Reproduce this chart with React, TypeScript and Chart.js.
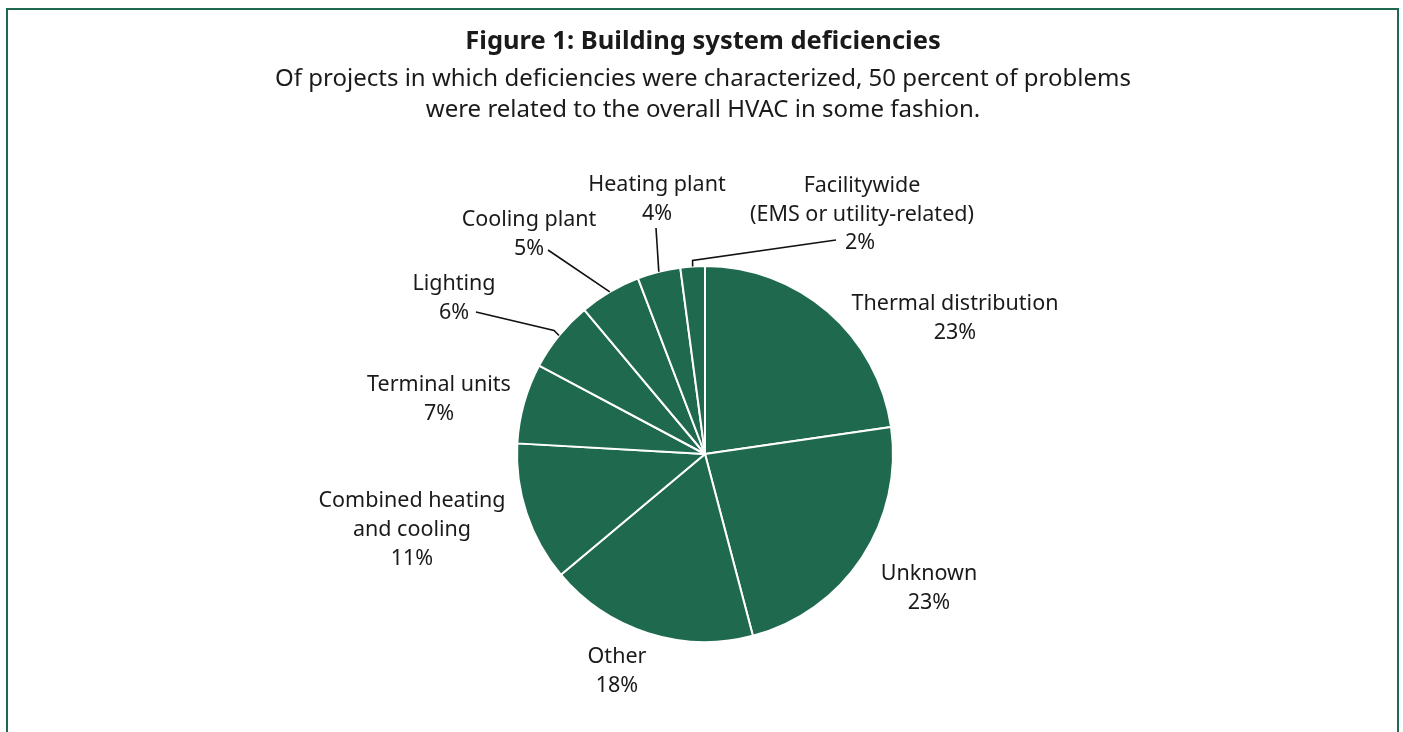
import React, { useEffect, useRef } from "react";
import { Chart, registerables } from "chart.js";

Chart.register(...registerables);

// ---- data ----
const categories = [
  "Thermal distribution",
  "Unknown",
  "Other",
  "Combined heating and cooling",
  "Terminal units",
  "Lighting",
  "Cooling plant",
  "Heating plant",
  "Facilitywide (EMS or utility-related)",
];
const shares = [22.7, 23.2, 18.0, 12.0, 6.9, 6.1, 5.3, 3.7, 2.1];
const percentLabels = ["23%", "23%", "18%", "11%", "7%", "6%", "5%", "4%", "2%"];
const labelLines = [
  ["Thermal distribution"],
  ["Unknown"],
  ["Other"],
  ["Combined heating", "and cooling"],
  ["Terminal units"],
  ["Lighting"],
  ["Cooling plant"],
  ["Heating plant"],
  ["Facilitywide", "(EMS or utility-related)"],
];
const titleText = "Figure 1: Building system deficiencies";
const subtitleLines = [
  "Of projects in which deficiencies were characterized, 50 percent of problems",
  "were related to the overall HVAC in some fashion.",
];

// ---- layout (offsets relative to pie centre, in px) ----
type LabelLayout = {
  dx: number;
  dy: number;
  pct?: [number, number];
  elbow?: [number, number];
  end?: [number, number];
};
const labelLayout: LabelLayout[] = [
  { dx: 250, dy: -150 },
  { dx: 224, dy: 120 },
  { dx: -88, dy: 203 },
  { dx: -293, dy: 47 },
  { dx: -266, dy: -69 },
  { dx: -251, dy: -170, elbow: [-5, -5], end: [-229, -142] },
  { dx: -176, dy: -234, end: [-157, -204] },
  { dx: -48, dy: -269, end: [-49, -226] },
  { dx: 157, dy: -268, pct: [155, -211], elbow: [0, -6], end: [131, -214] },
];

const GREEN = "#1f6a4e";
const TEXT = "#1a1a1a";
const FONT = "'Noto Sans', 'Open Sans', sans-serif";

const labelPlugin = {
  id: "outerLabels",
  afterDraw(chart: any) {
    const ctx = chart.ctx;
    const meta = chart.getDatasetMeta(0);
    ctx.save();
    // title & subtitle
    ctx.fillStyle = TEXT;
    ctx.textAlign = "center";
    ctx.textBaseline = "middle";
    ctx.font = `bold 25.5px ${FONT}`;
    ctx.fillText(titleText, 703, 41.5);
    ctx.font = `24px ${FONT}`;
    subtitleLines.forEach((l, i) => ctx.fillText(l, 703, 79.5 + i * 31));

    ctx.font = `21.5px ${FONT}`;
    const lh = 29;
    meta.data.forEach((arc: any, i: number) => {
      const p = arc.getProps(["x", "y", "startAngle", "endAngle", "outerRadius"], true);
      const cx = p.x, cy = p.y;
      const lay = labelLayout[i];
      const lines = labelLines[i];
      lines.forEach((t, k) => ctx.fillText(t, cx + lay.dx, cy + lay.dy + k * lh));
      if (lay.pct) {
        ctx.fillText(percentLabels[i], cx + lay.pct[0], cy + lay.pct[1]);
      } else {
        ctx.fillText(percentLabels[i], cx + lay.dx, cy + lay.dy + lines.length * lh);
      }
      if (lay.end) {
        const mid = (p.startAngle + p.endAngle) / 2;
        const ex = cx + Math.cos(mid) * p.outerRadius;
        const ey = cy + Math.sin(mid) * p.outerRadius;
        ctx.beginPath();
        ctx.strokeStyle = "#111";
        ctx.lineWidth = 1.6;
        ctx.moveTo(ex, ey);
        if (lay.elbow) ctx.lineTo(ex + lay.elbow[0], ey + lay.elbow[1]);
        ctx.lineTo(cx + lay.end[0], cy + lay.end[1]);
        ctx.stroke();
      }
    });
    ctx.restore();
  },
};

export default function App() {
  const ref = useRef<HTMLCanvasElement | null>(null);
  useEffect(() => {
    if (!ref.current) return;
    const chart = new Chart(ref.current, {
      type: "pie",
      data: {
        labels: categories,
        datasets: [
          {
            data: shares,
            backgroundColor: GREEN,
            borderColor: "#ffffff",
            borderWidth: 2,
          },
        ],
      },
      options: {
        responsive: false,
        maintainAspectRatio: false,
        animation: false,
        layout: { padding: { left: 516, right: 509, top: 265, bottom: 89 } },
        plugins: {
          legend: { display: false },
          tooltip: { enabled: false },
          title: { display: false },
        },
      },
      plugins: [labelPlugin],
    });
    return () => chart.destroy();
  }, []);
  return (
    <div style={{ position: "fixed", left: 0, top: 0, width: 1403, height: 732, background: "#fff", overflow: "hidden" }}>
      <div
        style={{
          position: "absolute",
          left: 6,
          top: 8,
          width: 1393,
          height: 800,
          border: `2.5px solid ${GREEN}`,
          boxSizing: "border-box",
        }}
      />
      <canvas ref={ref} width={1403} height={732} style={{ position: "absolute", left: 0, top: 0, width: 1403, height: 732 }} />
    </div>
  );
}
